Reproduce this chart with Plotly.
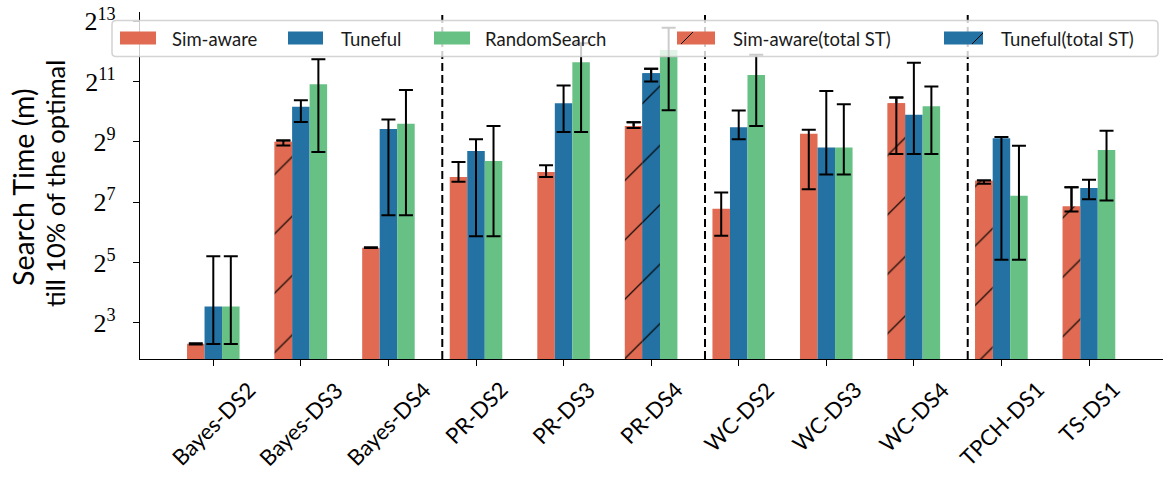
import math
import plotly.graph_objects as go

# ---------------------------------------------------------------- data
categories = ["Bayes-DS2", "Bayes-DS3", "Bayes-DS4", "PR-DS2", "PR-DS3", "PR-DS4",
              "WC-DS2", "WC-DS3", "WC-DS4", "TPCH-DS1", "TS-DS1"]

# search time (minutes) until reaching 10% of the optimum: mean, lower / upper bound
sim_aware    = [4.92, 515, 44.9, 228, 256, 739, 110, 617, 1243, 209, 116]
sim_aware_lo = [4.85, 471, 44.5, 205, 228, 704, 59, 172, 388, 196, 103]
sim_aware_hi = [5.0, 528, 45.3, 322, 300, 803, 160, 676, 1418, 211, 180]

tuneful    = [11.6, 1152, 690, 416, 1243, 2487, 719, 449, 955, 556, 177]
tuneful_lo = [4.9, 809, 95, 58.5, 643, 2048, 545, 242, 388, 34, 137]
tuneful_hi = [36.8, 1333, 855, 545, 1871, 2759, 1053, 1652, 3169, 572, 214]

random_search    = [11.6, 1924, 776, 329, 3191, 4240, 2385, 449, 1160, 148, 425]
random_search_lo = [4.9, 405, 95, 58.5, 643, 1060, 739, 242, 388, 34, 133]
random_search_hi = [36.8, 3420, 1687, 739, 4938, 7080, 3795, 1218, 1833, 468, 662]

# total search time (ST), only reported for some workloads
sim_aware_total = [None, 515, None, None, None, 739, None, None, 1243, 209, 116]
tuneful_total   = [None, None, None, None, None, 2487, None, None, None, None, None]

series_names = ["Sim-aware", "Tuneful", "RandomSearch",
                "Sim-aware(total ST)", "Tuneful(total ST)"]

# ---------------------------------------------------------------- style
RED = "#E06B52"
BLUE = "#2471A3"
GREEN = "#68C184"
SANS = "Lato, 'Open Sans', sans-serif"
SERIF = "'Liberation Serif', 'DejaVu Serif', serif"

W, H = 1168, 481
ML, MR, MT, MB = 140, 5, 12, 122
PW, PH = W - ML - MR, H - MT - MB


def px_x(px):
    return (px - ML) / PW


def px_y(py):
    return (H - MB - py) / PH


def err(vals, lo, hi):
    plus = [None if v is None else h - v for v, h in zip(vals, hi)]
    minus = [None if v is None else v - l for v, l in zip(vals, lo)]
    return dict(type="data", symmetric=False, array=plus, arrayminus=minus,
                color="black", thickness=2, width=7)


def masked(total, lo, hi):
    lo2 = [l if t is not None else None for t, l in zip(total, lo)]
    hi2 = [h if t is not None else None for t, h in zip(total, hi)]
    return lo2, hi2


hatch = dict(shape="/", size=42, solidity=0.03, fgcolor="black", fgopacity=0.9)

fig = go.Figure()
fig.add_trace(go.Bar(x=categories, y=sim_aware, name=series_names[0], offsetgroup="sa",
                     marker=dict(color=RED, line=dict(width=0)),
                     error_y=err(sim_aware, sim_aware_lo, sim_aware_hi)))
fig.add_trace(go.Bar(x=categories, y=tuneful, name=series_names[1], offsetgroup="tf",
                     marker=dict(color=BLUE, line=dict(width=0)),
                     error_y=err(tuneful, tuneful_lo, tuneful_hi)))
fig.add_trace(go.Bar(x=categories, y=random_search, name=series_names[2], offsetgroup="rs",
                     marker=dict(color=GREEN, line=dict(width=0)),
                     error_y=err(random_search, random_search_lo, random_search_hi)))

sa_lo, sa_hi = masked(sim_aware_total, sim_aware_lo, sim_aware_hi)
fig.add_trace(go.Bar(x=categories, y=sim_aware_total, name=series_names[3], offsetgroup="sa",
                     marker=dict(color=RED, line=dict(width=0), pattern=hatch),
                     error_y=err(sim_aware_total, sa_lo, sa_hi)))
tf_lo, tf_hi = masked(tuneful_total, tuneful_lo, tuneful_hi)
fig.add_trace(go.Bar(x=categories, y=tuneful_total, name=series_names[4], offsetgroup="tf",
                     marker=dict(color=BLUE, line=dict(width=0), pattern=hatch),
                     error_y=err(tuneful_total, tf_lo, tf_hi)))

# dashed separators between benchmark families
shapes = []
for xs in [2.615, 5.615, 8.615]:
    shapes.append(dict(type="line", xref="x", yref="paper", x0=xs, x1=xs, y0=0, y1=1,
                       line=dict(color="black", width=2, dash="8px,4px"), layer="above"))

# legend box drawn on top of the plot
lx0, lx1, ly0, ly1, r = 112, 1158, 20.5, 56.5, 4
frame = (f"M{px_x(lx0 + r)},{px_y(ly0)} L{px_x(lx1 - r)},{px_y(ly0)} "
         f"Q{px_x(lx1)},{px_y(ly0)} {px_x(lx1)},{px_y(ly0 + r)} "
         f"L{px_x(lx1)},{px_y(ly1 - r)} Q{px_x(lx1)},{px_y(ly1)} {px_x(lx1 - r)},{px_y(ly1)} "
         f"L{px_x(lx0 + r)},{px_y(ly1)} Q{px_x(lx0)},{px_y(ly1)} {px_x(lx0)},{px_y(ly1 - r)} "
         f"L{px_x(lx0)},{px_y(ly0 + r)} Q{px_x(lx0)},{px_y(ly0)} {px_x(lx0 + r)},{px_y(ly0)} Z")
shapes.append(dict(type="path", xref="paper", yref="paper", path=frame,
                   fillcolor="rgba(255,255,255,0.8)",
                   line=dict(color="rgba(204,204,204,0.85)", width=1.6), layer="above"))

legend_items = [
    (120, 156, 170, RED, None),
    (288, 323, 339, BLUE, None),
    (434, 470, 483, GREEN, None),
    (677, 715, 731, RED, (681, 44, 693, 32)),
    (944, 983, 999, BLUE, (972, 44, 983, 33)),
]
annotations = []
for (p0, p1, tx, col, hl), name in zip(legend_items, series_names):
    shapes.append(dict(type="rect", xref="paper", yref="paper",
                       x0=px_x(p0), x1=px_x(p1), y0=px_y(44.5), y1=px_y(31.5),
                       fillcolor=col, line=dict(width=0), layer="above"))
    if hl:
        shapes.append(dict(type="line", xref="paper", yref="paper",
                           x0=px_x(hl[0]), y0=px_y(hl[1]), x1=px_x(hl[2]), y1=px_y(hl[3]),
                           line=dict(color="black", width=1), layer="above"))
    annotations.append(dict(xref="paper", yref="paper", x=px_x(tx), y=px_y(38.5),
                            xanchor="left", yanchor="middle", showarrow=False, text=name,
                            font=dict(family=SANS, size=18.5, color="#1a1a1a")))

# rotated category labels centred under each tick
for c in categories:
    annotations.append(dict(xref="x", yref="paper", x=c, y=0, yshift=-14,
                            xanchor="center", yanchor="top", textangle=-45,
                            showarrow=False, text=c,
                            font=dict(family=SANS, size=22, color="black")))

# y-axis title (two lines of different size)
annotations.append(dict(xref="paper", yref="paper", x=px_x(22.5), y=px_y(187.5),
                        xanchor="center", yanchor="middle", textangle=-90, showarrow=False,
                        text="Search Time (m)",
                        font=dict(family=SANS, size=28.5, color="black")))
annotations.append(dict(xref="paper", yref="paper", x=px_x(55), y=px_y(184),
                        xanchor="center", yanchor="middle", textangle=-90, showarrow=False,
                        text="till 10% of the optimal",
                        font=dict(family=SANS, size=25.5, color="black")))

exps = [3, 5, 7, 9, 11, 13]
fig.update_layout(
    width=W, height=H, margin=dict(l=ML, r=MR, t=MT, b=MB),
    paper_bgcolor="white", plot_bgcolor="white",
    barmode="group", bargap=0.4, bargroupgap=0, showlegend=False,
    shapes=shapes, annotations=annotations,
    xaxis=dict(type="category", categoryorder="array", categoryarray=categories,
               range=[-0.837, 10.845], showline=True, linecolor="black", linewidth=1.3,
               ticks="outside", ticklen=6, tickwidth=1.3, tickcolor="black",
               showticklabels=False, showgrid=False, zeroline=False),
    yaxis=dict(type="log", range=[1.796 * math.log10(2), 13.31 * math.log10(2)],
               tickvals=[2 ** k for k in exps], ticktext=[f"2<sup>{k}</sup>" for k in exps],
               showline=True, linecolor="black", linewidth=1.3,
               ticks="outside", ticklen=6, tickwidth=1.3, tickcolor="black",
               tickfont=dict(family=SERIF, size=26, color="black"),
               ticklabelstandoff=12, showgrid=False, zeroline=False),
)

fig.write_html("out.html")
